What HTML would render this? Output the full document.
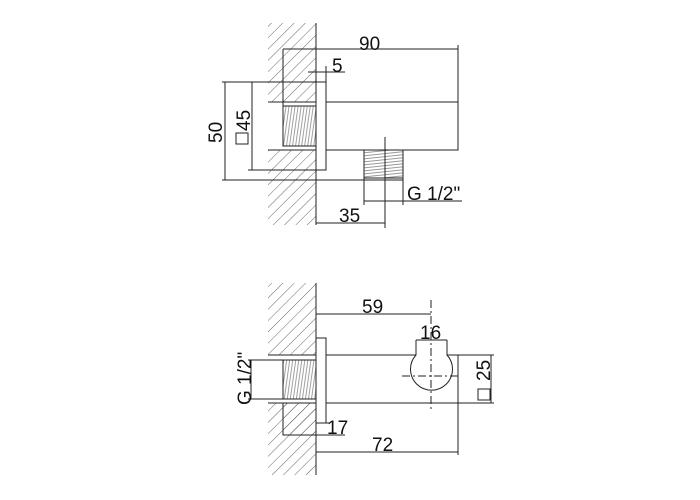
<!DOCTYPE html>
<html><head><meta charset="utf-8"><style>
html,body{margin:0;padding:0;background:#fff;}
svg{display:block;}
text{font-family:"Liberation Sans",sans-serif;font-size:19px;fill:#111;}
</style></head><body>
<svg width="700" height="500" viewBox="0 0 700 500" xmlns="http://www.w3.org/2000/svg">
<defs>
<pattern id="h" width="8" height="8" patternUnits="userSpaceOnUse" patternTransform="rotate(45)">
<line x1="0" y1="0" x2="0" y2="8" stroke="#555" stroke-width="0.9"/>
</pattern>
<pattern id="t" width="3" height="40" patternUnits="userSpaceOnUse" patternTransform="rotate(8)">
<line x1="1" y1="0" x2="1" y2="40" stroke="#777" stroke-width="0.7"/>
</pattern>
<pattern id="t2" width="40" height="3" patternUnits="userSpaceOnUse" patternTransform="rotate(-6)">
<line x1="0" y1="1" x2="40" y2="1" stroke="#777" stroke-width="0.7"/>
</pattern>
</defs>
<g stroke="#222" stroke-width="1" fill="none">
<!-- TOP VIEW -->
<rect x="268" y="23" width="48" height="79" fill="url(#h)" stroke="none"/>
<rect x="268" y="150" width="48" height="75" fill="url(#h)" stroke="none"/>
<line x1="316" y1="23" x2="316" y2="225"/>
<line x1="268" y1="102" x2="316" y2="102"/>
<line x1="268" y1="150" x2="316" y2="150"/>
<rect x="283" y="106" width="33" height="40" fill="url(#t)"/>
<line x1="283" y1="49" x2="283" y2="106"/>
<rect x="316" y="82" width="10" height="88" fill="#fff"/>
<rect x="326" y="102" width="132" height="48"/>
<line x1="458" y1="45" x2="458" y2="102"/>
<rect x="364" y="150" width="39" height="28" fill="url(#t2)"/>
<line x1="283" y1="49" x2="458" y2="49"/>
<line x1="308" y1="72" x2="345" y2="72"/>
<line x1="326" y1="66" x2="326" y2="82"/>
<line x1="225" y1="82" x2="225" y2="180"/>
<line x1="222" y1="82" x2="316" y2="82"/>
<line x1="222" y1="180" x2="403" y2="180"/>
<line x1="252" y1="82" x2="252" y2="170"/>
<line x1="248" y1="170" x2="326" y2="170"/>
<line x1="385" y1="137" x2="385" y2="228"/>
<line x1="316" y1="223" x2="385" y2="223"/>
<line x1="364" y1="178" x2="364" y2="205"/>
<line x1="403" y1="178" x2="403" y2="205"/>
<line x1="364" y1="201" x2="462" y2="201"/>

<!-- BOTTOM VIEW -->
<rect x="268" y="283" width="48" height="72" fill="url(#h)" stroke="none"/>
<rect x="268" y="403" width="48" height="72" fill="url(#h)" stroke="none"/>
<line x1="316" y1="283" x2="316" y2="475"/>
<line x1="268" y1="355" x2="316" y2="355"/>
<line x1="268" y1="403" x2="316" y2="403"/>
<rect x="283" y="360" width="33" height="39" fill="url(#t)"/>
<rect x="283" y="403" width="33" height="32" fill="url(#h)"/>
<rect x="316" y="338" width="10" height="85" fill="#fff"/>
<path d="M326 355 H416 M447 355 H458 V403 H326"/>
<path d="M416 340 V355 A21 21 0 1 0 447 355 V340"/>
<line x1="402" y1="376" x2="460" y2="376" stroke-dasharray="8,3,2,3"/>
<line x1="431" y1="300" x2="431" y2="410" stroke-dasharray="8,3,2,3"/>
<line x1="316" y1="314" x2="431" y2="314"/>
<line x1="316" y1="310" x2="316" y2="338"/>
<line x1="416" y1="340" x2="447" y2="340"/>
<line x1="458" y1="355" x2="494" y2="355"/>
<line x1="458" y1="403" x2="494" y2="403"/>
<line x1="491" y1="355" x2="491" y2="403"/>
<line x1="316" y1="452" x2="458" y2="452"/>
<line x1="458" y1="403" x2="458" y2="455"/>
<line x1="322" y1="423" x2="330" y2="423"/>
<line x1="283" y1="435" x2="345" y2="435"/>
<line x1="248" y1="360" x2="283" y2="360"/>
<line x1="248" y1="399" x2="283" y2="399"/>
<line x1="251" y1="360" x2="251" y2="399"/>
<rect x="236" y="133" width="12" height="11"/>
<rect x="478" y="389" width="12" height="11"/>
</g>
<text x="359" y="50">90</text>
<text x="332" y="72">5</text>
<text x="339" y="222">35</text>
<text x="407" y="200">G 1/2"</text>
<text transform="translate(222,143) rotate(-90)">50</text>
<text transform="translate(250,131) rotate(-90)">45</text>
<text x="362" y="313">59</text>
<text x="420" y="339">16</text>
<text x="327" y="434">17</text>
<text x="372" y="451">72</text>
<text transform="translate(490,381) rotate(-90)">25</text>
<text transform="translate(251,405) rotate(-90)">G 1/2"</text>
</svg>
</body></html>
